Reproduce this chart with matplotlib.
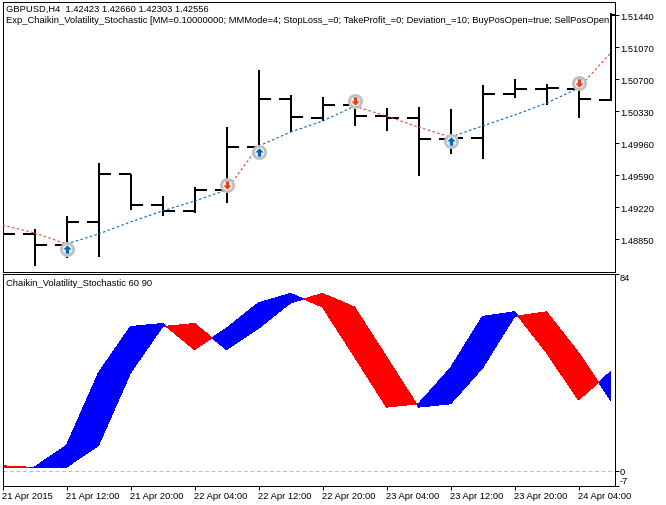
import numpy as np
import matplotlib
matplotlib.use("Agg")
import matplotlib.pyplot as plt
from matplotlib.path import Path

# --- Data ---
opens = [1.48900, 1.48908, 1.48781, 1.49047, 1.49602, 1.49243, 1.49174, 1.49417, 1.49914, 1.50469,
         1.50249, 1.50399, 1.50272, 1.50249, 1.50006, 1.50018, 1.50527, 1.50584, 1.50584, 1.50457]
highs = [1.49000, 1.48966, 1.49116, 1.49729, 1.49602, 1.49347, 1.49451, 1.50145, 1.50804, 1.50515,
         1.50492, 1.50492, 1.50365, 1.50376, 1.50353, 1.50631, 1.50700, 1.50642, 1.50665, 1.51463]
lows = [1.48800, 1.48538, 1.48630, 1.48642, 1.49185, 1.49116, 1.49151, 1.49266, 1.49914, 1.50087,
        1.50214, 1.50157, 1.50099, 1.49578, 1.49833, 1.49775, 1.50480, 1.50399, 1.50249, 1.50445]
closes = [1.48908, 1.48781, 1.49047, 1.49602, 1.49243, 1.49174, 1.49417, 1.49914, 1.50469, 1.50261,
          1.50399, 1.50272, 1.50249, 1.50006, 1.50018, 1.50527, 1.50584, 1.50596, 1.50469, 1.51440]

ma_values = [1.49012, 1.48920, 1.48793, 1.48908, 1.49047, 1.49174, 1.49289, 1.49417, 1.49925, 1.50087,
             1.50214, 1.50388, 1.50272, 1.50145, 1.50030, 1.50157, 1.50284, 1.50422, 1.50596, 1.51000]
# 1 = rising (blue) segment leading up to the bar, 0 = falling/red
ma_up = [0, 0, 0, 1, 1, 1, 1, 1, 0, 1, 1, 1, 0, 0, 0, 1, 1, 1, 1, 0]

signal_idx = [2, 7, 8, 11, 14, 18]
signal_price = [1.48734, 1.49474, 1.49856, 1.50446, 1.49983, 1.50654]
signal_buy = [True, False, True, False, True, False]

price_ticks = [1.51440, 1.51070, 1.50700, 1.50330, 1.49960, 1.49590, 1.49220, 1.48850]

# fast line of the indicator, slow line is the same one bar later
fast_line = [1.4, 1.55, 10.8, 41.7, 61.4, 62.7, 51.6, 60.7, 71.5, 75.5, 69.7, 48.5, 27.1, 28.5,
             43.8, 65.7, 67.7, 50.3, 30.1, 42.1]
slow_first = 2.1

time_ticks = [0, 2, 4, 6, 8, 10, 12, 14, 16, 18]
time_labels = ["21 Apr 2015", "21 Apr 12:00", "21 Apr 20:00", "22 Apr 04:00", "22 Apr 12:00",
               "22 Apr 20:00", "23 Apr 04:00", "23 Apr 12:00", "23 Apr 20:00", "24 Apr 04:00"]

title1 = "GBPUSD,H4  1.42423 1.42660 1.42303 1.42556"
title2 = ("Exp_Chaikin_Volatility_Stochastic [MM=0.10000000; MMMode=4; StopLoss_=0; TakeProfit_=0; "
          "Deviation_=10; BuyPosOpen=true; SellPosOpen")
title3 = "Chaikin_Volatility_Stochastic 60 90"

# --- Style ---
W, H = 666, 506
plt.rcParams["font.family"] = "Liberation Sans"
plt.rcParams["font.size"] = 6.75
plt.rcParams["axes.linewidth"] = 0.72
BLUE_MA = "#0066BB"
RED_MA = "#E8401C"


def axes_px(fig, left, top, right, bottom):
    return fig.add_axes([left / W, 1 - bottom / H, (right - left) / W, (bottom - top) / H])


fig = plt.figure(figsize=(W / 100, H / 100), dpi=100, facecolor="white")
ax1 = axes_px(fig, 2.5, 2.5, 614.5, 272.5)
ax2 = axes_px(fig, 2.5, 274.5, 614.5, 486.5)

x = np.arange(len(closes))
xlim = (0, 19.125)

# --- Price panel ---
ax1.vlines(x[1:], lows[1:], highs[1:], color="black", lw=1.44, zorder=3)
ax1.hlines(opens[1:], x[1:] - 0.375, x[1:], color="black", lw=1.44, zorder=3)
ax1.hlines(closes, x, x + 0.375, color="black", lw=1.44, zorder=3)

for i in range(1, len(x)):
    c = BLUE_MA if ma_up[i] else RED_MA
    ax1.plot(x[i - 1:i + 1], ma_values[i - 1:i + 1], color=c, lw=0.8, ls=(0, (2.2, 2.2)), zorder=4)

arrow_up = Path([(0, 1), (1, 0), (0.4, 0), (0.4, -1), (-0.4, -1), (-0.4, 0), (-1, 0), (0, 1)], closed=True)
arrow_down = Path([(0, -1), (1, 0), (0.4, 0), (0.4, 1), (-0.4, 1), (-0.4, 0), (-1, 0), (0, -1)], closed=True)
for i, p, buy in zip(signal_idx, signal_price, signal_buy):
    ax1.plot(i, p, "o", ms=8.8, mfc="#F4F4F4", mec="#C0C0C0", mew=2.0, zorder=5)
    ax1.plot(i, p, marker=arrow_up if buy else arrow_down, ms=6.0, mew=0,
             color=BLUE_MA if buy else RED_MA, zorder=6)

ax1.set_xlim(xlim)
ax1.set_ylim(1.48474, 1.51598)
ax1.set_xticks([])
ax1.yaxis.tick_right()
ax1.set_yticks(price_ticks)
ax1.set_yticklabels([f"{v:.5f}" for v in price_ticks])
ax1.tick_params(axis="y", length=3.1, width=0.72, pad=0.8)

ax1.text(3.8 / 612, 1 - 7 / 270, title1, transform=ax1.transAxes, va="center")
ax1.text(3.8 / 612, 1 - 18.3 / 270, title2, transform=ax1.transAxes, va="center", clip_on=True)

# --- Indicator panel ---
fast = np.array(fast_line)
slow = np.r_[slow_first, fast[:-1]]
xx = np.linspace(0, 19, 1901)
f = np.interp(xx, x, fast)
s = np.interp(xx, x, slow)
ax2.fill_between(xx, f, s, where=f >= s, color="#0000FF", lw=0, antialiased=False, interpolate=True)
ax2.fill_between(xx, f, s, where=f <= s, color="#FF0000", lw=0, antialiased=False, interpolate=True)
ax2.axhline(0, color="#C0C0C0", lw=0.72, ls=(0, (4, 2.5)))

ax2.set_xlim(xlim)
ax2.set_ylim(-6.3, 84)
ax2.yaxis.tick_right()
ax2.set_yticks([84, 0, -6.3])
labels = ax2.set_yticklabels(["84", "0", "-7"])
labels[0].set_va("top")
labels[2].set_va("bottom")
ax2.tick_params(axis="y", length=3.1, width=0.72, pad=0.8)
ax2.set_xticks(time_ticks)
ax2.set_xticklabels(time_labels, ha="left")
ax2.tick_params(axis="x", length=3.1, width=0.72, pad=1.2)
ax2.text(3.5 / 612, 1 - 9 / 212, title3, transform=ax2.transAxes, va="center")

fig.savefig("out.png", dpi=100)
